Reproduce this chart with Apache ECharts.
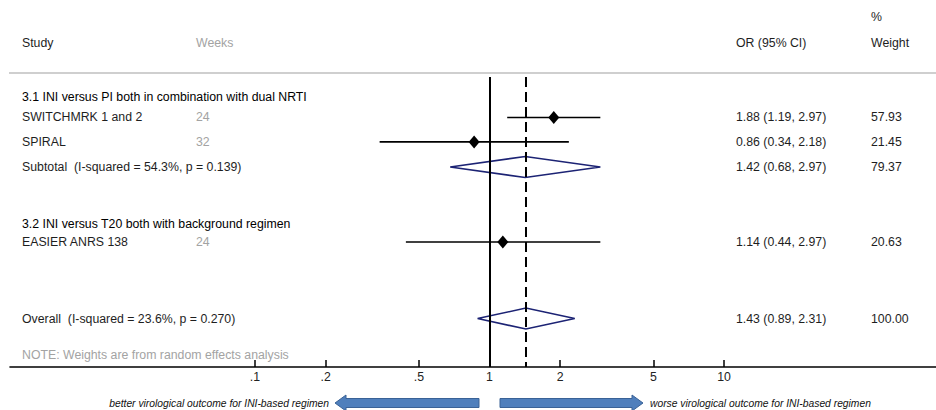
<!DOCTYPE html>
<html>
<head>
<meta charset="utf-8">
<script src="https://cdn.jsdelivr.net/npm/echarts@6/dist/echarts.min.js"></script>
<style>
  html, body { margin: 0; padding: 0; background: #fff; }
  #chart { width: 936px; height: 410px; }
</style>
</head>
<body>
<div id="chart"></div>
<script>
// data
const groups = ['3.1 INI versus PI both in combination with dual NRTI', '3.2 INI versus T20 both with background regimen'];
const studies = ['SWITCHMRK 1 and 2', 'SPIRAL', 'EASIER ANRS 138'];
const weeks = [24, 32, 24];
const studyOr = [1.88, 0.86, 1.14];
const studyLo = [1.19, 0.34, 0.44];
const studyHi = [2.97, 2.18, 2.97];
const studyWeight = [57.93, 21.45, 20.63];

const pooledLabels = ['Subtotal  (I-squared = 54.3%, p = 0.139)', 'Overall  (I-squared = 23.6%, p = 0.270)'];
const pooledOr = [1.42, 1.43];
const pooledLo = [0.68, 0.89];
const pooledHi = [2.97, 2.31];
const pooledWeight = [79.37, 100.00];

const tickValues = [0.1, 0.2, 0.5, 1, 2, 5, 10];
const tickLabels = ['.1', '.2', '.5', '1', '2', '5', '10'];

// layout (row positions in row units, text columns in px)
const groupRow = [3.96, 9.15];
const studyRow = [4.8, 5.8, 9.89];
const pooledRow = [6.825, 13.02];
const refTop = 3.15;
const rowMax = 15;
const colName = 22, colWeeks = 196, colOr = 736, colWeight = 871;

const FONT = 'Arial, "Liberation Sans", sans-serif';
const FS = 12.3;
const GREY = '#a3a3a3';
const INK = '#1e1e1e';

function fmt(v) { return v.toFixed(2); }

function txt(str, x, y, color, extra) {
  return {
    type: 'text',
    style: Object.assign({
      text: str, x: x, y: y, fill: color || INK,
      fontSize: FS, fontFamily: FONT, verticalAlign: 'middle'
    }, extra || {})
  };
}

function renderStudy(params, api) {
  var i = params.dataIndex;
  var row = api.value(3);
  var lo = api.coord([api.value(1), row]);
  var hi = api.coord([api.value(2), row]);
  var mid = api.coord([api.value(0), row]);
  var y = mid[1];
  return {
    type: 'group',
    children: [
      { type: 'line', shape: { x1: lo[0], y1: y, x2: hi[0], y2: y }, style: { stroke: '#000', lineWidth: 1.6 } },
      { type: 'polygon', shape: { points: [[mid[0] - 5.5, y], [mid[0], y - 6.5], [mid[0] + 5.5, y], [mid[0], y + 6.5]] }, style: { fill: '#000' } },
      txt(studies[i], colName, y),
      txt(String(weeks[i]), colWeeks, y, GREY),
      txt(fmt(studyOr[i]) + ' (' + fmt(studyLo[i]) + ', ' + fmt(studyHi[i]) + ')', colOr, y),
      txt(fmt(studyWeight[i]), colWeight, y)
    ]
  };
}

function renderPooled(params, api) {
  var i = params.dataIndex;
  var row = api.value(3);
  var lo = api.coord([api.value(1), row]);
  var hi = api.coord([api.value(2), row]);
  var mid = api.coord([api.value(0), row]);
  var y = mid[1];
  return {
    type: 'group',
    children: [
      { type: 'polygon', shape: { points: [[lo[0], y], [mid[0], y - 10.5], [hi[0], y], [mid[0], y + 10.5]] },
        style: { fill: 'none', stroke: '#1c2374', lineWidth: 1.6 } },
      txt(pooledLabels[i], colName, y),
      txt(fmt(pooledOr[i]) + ' (' + fmt(pooledLo[i]) + ', ' + fmt(pooledHi[i]) + ')', colOr, y),
      txt(fmt(pooledWeight[i]), colWeight, y)
    ]
  };
}

function renderGroup(params, api) {
  var y = api.coord([1, api.value(0)])[1];
  return txt(groups[params.dataIndex], colName, y, '#000');
}

function arrow(tail, tip, y) {
  var dir = tip > tail ? 1 : -1;
  var neck = tip - dir * 11;
  return {
    type: 'polygon',
    shape: { points: [[tail, y - 4.5], [neck, y - 4.5], [neck, y - 8], [tip, y], [neck, y + 8], [neck, y + 4.5], [tail, y + 4.5]] },
    style: { fill: '#4f7fbc', stroke: '#3a6296', lineWidth: 1 }
  };
}

var chart = echarts.init(document.getElementById('chart'), null, { renderer: 'svg' });

var option = {
  backgroundColor: '#fff',
  animation: false,
  grid: { left: 10, right: 0, top: 0, bottom: 43 },
  xAxis: {
    type: 'log',
    logBase: 10,
    position: 'bottom',
    min: 0.00902,
    max: 80.2,
    axisLine: { onZero: false, lineStyle: { color: '#000', width: 1.6 } },
    axisTick: { inside: true, length: 7, customValues: tickValues, lineStyle: { color: '#000', width: 1.5 } },
    axisLabel: {
      customValues: tickValues,
      margin: 4,
      color: '#222',
      fontSize: FS,
      fontFamily: FONT,
      formatter: function (v) {
        var k = tickValues.findIndex(function (t) { return Math.abs(t - v) < 1e-6; });
        return k >= 0 ? tickLabels[k] : '';
      }
    },
    splitLine: { show: false },
    minorTick: { show: false }
  },
  yAxis: {
    type: 'value',
    inverse: true,
    min: 0,
    max: rowMax,
    show: false
  },
  series: [
    {
      type: 'line',
      data: [],
      silent: true,
      markLine: {
        symbol: 'none',
        silent: true,
        label: { show: false },
        data: [
          [{ coord: [1, refTop], lineStyle: { color: '#000', width: 2, type: 'solid' } }, { coord: [1, rowMax] }],
          [{ coord: [pooledOr[1], refTop], lineStyle: { color: '#000', width: 2, type: [10, 5] } }, { coord: [pooledOr[1], rowMax] }]
        ]
      }
    },
    {
      type: 'custom',
      renderItem: renderGroup,
      data: groupRow.map(function (r) { return [r]; }),
      encode: { y: 0 }
    },
    {
      type: 'custom',
      renderItem: renderStudy,
      data: studies.map(function (s, i) { return [studyOr[i], studyLo[i], studyHi[i], studyRow[i]]; }),
      encode: { x: [0, 1, 2], y: 3 }
    },
    {
      type: 'custom',
      renderItem: renderPooled,
      data: pooledLabels.map(function (s, i) { return [pooledOr[i], pooledLo[i], pooledHi[i], pooledRow[i]]; }),
      encode: { x: [0, 1, 2], y: 3 }
    }
  ],
  graphic: [
    txt('%', colWeight, 17),
    txt('Study', colName, 43),
    txt('Weeks', colWeeks, 43, GREY),
    txt('OR (95% CI)', colOr, 43),
    txt('Weight', colWeight, 43),
    { type: 'line', shape: { x1: 9, y1: 73, x2: 936, y2: 73 }, style: { stroke: '#cfcfcf', lineWidth: 2 } },
    txt('NOTE: Weights are from random effects analysis', colName, 355, GREY),
    txt('better virological outcome for INI-based regimen', 329, 403, '#111', { align: 'right', fontSize: 10.3, fontStyle: 'italic' }),
    txt('worse virological outcome for INI-based regimen', 650, 403, '#111', { fontSize: 10.3, fontStyle: 'italic' }),
    arrow(479, 335, 403),
    arrow(500, 643, 403)
  ]
};

chart.setOption(option);
</script>
</body>
</html>
